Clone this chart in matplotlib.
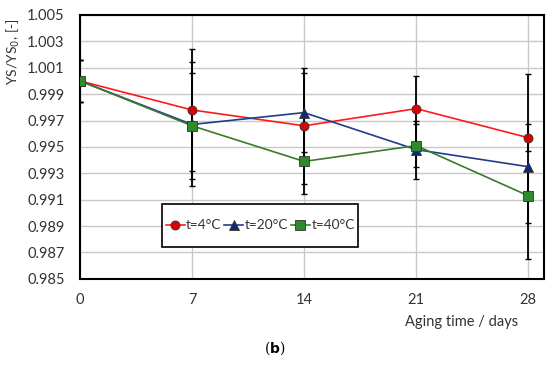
import matplotlib
matplotlib.use('Agg')
import matplotlib.pyplot as plt
from matplotlib.patches import Rectangle

plt.rcParams['font.family'] = ['Lato', 'DejaVu Sans']

days = [0, 7, 14, 21, 28]
ys_4c = [1.0000, 0.9978, 0.9966, 0.9979, 0.9957]
ys_20c = [1.0000, 0.9967, 0.9976, 0.9948, 0.9935]
ys_40c = [1.0000, 0.9966, 0.9939, 0.9951, 0.9913]
err_4c = [0.0016, 0.0046, 0.0044, 0.0025, 0.0010]
err_20c = [0.0016, 0.0047, 0.0030, 0.0022, 0.0070]
err_40c = [0.0016, 0.0040, 0.0025, 0.0016, 0.0021]
yticks = [0.985, 0.987, 0.989, 0.991, 0.993, 0.995, 0.997, 0.999, 1.001, 1.003, 1.005]
xticks = [0, 7, 14, 21, 28]

series = [
    ('t=4°C', ys_4c, err_4c, '#ff1a1a', '#e00000', 'o', 6.5),
    ('t=20°C', ys_20c, err_20c, '#1f3d8a', '#0d2a7a', '^', 7),
    ('t=40°C', ys_40c, err_40c, '#3b7a2e', '#2e8a2a', 's', 7),
]

fig = plt.figure(figsize=(5.5, 3.65), dpi=100)
ax = fig.add_axes([0.1455, 0.236, 0.844, 0.723])

for label, y, e, lc, fc, m, ms in series:
    ax.errorbar(days, y, yerr=e, fmt='none', ecolor='black', elinewidth=1.3,
                capsize=2.5, capthick=1.0, zorder=2)
for label, y, e, lc, fc, m, ms in series:
    ax.plot(days, y, color=lc, lw=1.2, marker=m, markersize=ms,
            markerfacecolor=fc, markeredgecolor='#333333', markeredgewidth=0.6,
            label=label, zorder=3)

ax.set_xlim(0, 29)
ax.set_ylim(0.985, 1.005)
ax.set_xticks(xticks)
ax.set_yticks(yticks)
ax.set_yticklabels([f'{v:.3f}' for v in yticks])
ax.grid(True, color='#c8c8c8', lw=1.0)
ax.set_axisbelow(True)
ax.tick_params(length=0, labelsize=10.5, colors='#333333')
ax.tick_params(axis='x', pad=10)
ax.tick_params(axis='y', pad=11)
for s in ax.spines.values():
    s.set_linewidth(1.5)
    s.set_color('black')

fig.text(0.024, 0.857, 'YS/YS$_0$, [-]', rotation=90, ha='center', va='center',
         fontsize=10, color='#333333')
fig.text(0.942, 0.118, 'Aging time / days', ha='right', va='center',
         fontsize=10.5, color='#333333')
fig.text(0.5, 0.045, r'($\mathbf{b}$)', ha='center', va='center',
         fontsize=10, family='DejaVu Serif')

# legend box drawn separately so it can be wide-padded vertically only
ax.add_patch(Rectangle((0.1767, 0.121), 0.4224, 0.163, transform=ax.transAxes,
                       facecolor='white', edgecolor='black', lw=1.2, zorder=4))
leg = ax.legend(loc='center', bbox_to_anchor=(0.388, 0.2025), ncol=3,
                frameon=False, fontsize=9.8, handlelength=1.4,
                handletextpad=0.1, columnspacing=0.2, borderpad=0.1)
leg.set_zorder(5)
for t in leg.get_texts():
    t.set_color('#333333')

fig.savefig('out.png', dpi=100)
